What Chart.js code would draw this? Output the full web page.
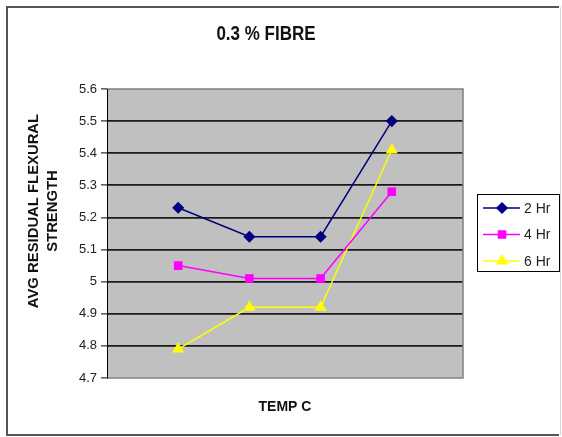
<!DOCTYPE html>
<html>
<head>
<meta charset="utf-8">
<title>0.3 % FIBRE</title>
<script src="https://cdn.jsdelivr.net/npm/chart.js@4.4.1/dist/chart.umd.min.js"></script>
<style>
  html, body { margin: 0; padding: 0; background: #ffffff; }
  #wrap { width: 562px; height: 437px; position: relative; }
</style>
</head>
<body>
<div id="wrap"><canvas id="chart" width="562" height="437"></canvas></div>
<script>
// Temperature steps (unlabelled on the axis), placed at slots 1..4
const tempSlots = [1, 2, 3, 4];
const seriesNames = ['2 Hr', '4 Hr', '6 Hr'];
const hr2 = [5.23, 5.14, 5.14, 5.50];
const hr4 = [5.05, 5.01, 5.01, 5.28];
const hr6 = [4.79, 4.92, 4.92, 5.41];
const yTicks = [4.7, 4.8, 4.9, 5.0, 5.1, 5.2, 5.3, 5.4, 5.5, 5.6];

const chartTitle = '0.3 % FIBRE';
const yTitle = ['AVG RESIDUAL FLEXURAL', 'STRENGTH'];
const xTitle = 'TEMP C';

const FONT = '"Liberation Sans", Arial, Helvetica, sans-serif';

const toPoints = vals => vals.map((v, i) => ({ x: tempSlots[i], y: v }));

// Page frame, grey plot area, heading, rotated y title and legend box
const decorations = {
  id: 'decorations',
  beforeDraw(chart) {
    const { ctx, chartArea: a } = chart;
    ctx.save();
    ctx.fillStyle = '#ffffff';
    ctx.fillRect(0, 0, chart.width, chart.height);
    ctx.fillStyle = '#c0c0c0';
    ctx.fillRect(a.left, a.top, a.right - a.left, a.bottom - a.top);
    ctx.restore();
  },
  afterDatasetsDraw(chart) {
    const { ctx, chartArea: a } = chart;
    ctx.save();
    // plot area outline
    ctx.strokeStyle = '#808080';
    ctx.lineWidth = 1.5;
    ctx.beginPath();
    ctx.moveTo(a.left, a.top); ctx.lineTo(a.right, a.top);
    ctx.lineTo(a.right, a.bottom); ctx.lineTo(a.left, a.bottom);
    ctx.stroke();
    // y axis line
    ctx.strokeStyle = '#000000';
    ctx.lineWidth = 1;
    ctx.beginPath();
    ctx.moveTo(a.left + 0.5, a.top); ctx.lineTo(a.left + 0.5, a.bottom + 0.5);
    ctx.stroke();

    // outer frame
    ctx.strokeStyle = '#555555';
    ctx.lineWidth = 2;
    ctx.beginPath();
    ctx.moveTo(559, 7); ctx.lineTo(7, 7); ctx.lineTo(7, 435); ctx.lineTo(559, 435);
    ctx.stroke();
    ctx.strokeStyle = '#d8d8d8';
    ctx.lineWidth = 1;
    ctx.beginPath();
    ctx.moveTo(560.5, 7); ctx.lineTo(560.5, 435);
    ctx.stroke();

    // heading
    ctx.save();
    ctx.fillStyle = '#111111';
    ctx.font = 'bold 17px ' + FONT;
    ctx.textAlign = 'center';
    ctx.textBaseline = 'middle';
    ctx.translate(266, 35);
    ctx.scale(1, 1.15);
    ctx.fillText(chartTitle, 0, 0);
    ctx.restore();

    // rotated y axis title (two lines)
    ctx.save();
    ctx.fillStyle = '#111111';
    ctx.font = 'bold 14px ' + FONT;
    ctx.textAlign = 'center';
    ctx.textBaseline = 'middle';
    ctx.translate(0, 211);
    ctx.rotate(-Math.PI / 2);
    ctx.scale(1.06, 1);
    ctx.fillText(yTitle[0], 0, 34);
    ctx.fillText(yTitle[1], 0, 53);
    ctx.restore();
    ctx.restore();

    // legend box with line + marker samples
    ctx.save();
    const bx = 477, by = 194, bw = 82, bh = 77;
    ctx.fillStyle = '#ffffff';
    ctx.fillRect(bx, by, bw, bh);
    ctx.strokeStyle = '#000000';
    ctx.lineWidth = 1;
    ctx.strokeRect(bx + 0.5, by + 0.5, bw, bh);
    chart.data.datasets.forEach((ds, i) => {
      const y = 208 + i * 26.5;
      ctx.strokeStyle = ds.borderColor;
      ctx.lineWidth = 1.5;
      ctx.beginPath();
      ctx.moveTo(483, y); ctx.lineTo(520, y);
      ctx.stroke();
      ctx.fillStyle = ds.pointBackgroundColor;
      ctx.strokeStyle = ds.pointBorderColor;
      Chart.helpers.drawPoint(ctx, {
        pointStyle: ds.pointStyle,
        radius: ds.pointRadius,
        borderWidth: 1
      }, 502, y);
      ctx.fillStyle = '#222222';
      ctx.font = '14px ' + FONT;
      ctx.textAlign = 'left';
      ctx.textBaseline = 'middle';
      ctx.fillText(ds.label, 524, y + 1);
    });
    ctx.restore();
  }
};

const makeSeries = (label, vals, color, style, radius) => ({
  label,
  data: toPoints(vals),
  borderColor: color,
  backgroundColor: color,
  pointBackgroundColor: color,
  pointBorderColor: color,
  pointStyle: style,
  pointRadius: radius,
  pointHoverRadius: radius,
  borderWidth: 1.5,
  tension: 0
});

new Chart(document.getElementById('chart'), {
  type: 'line',
  data: {
    datasets: [
      makeSeries(seriesNames[0], hr2, '#000080', 'rectRot', 5),
      makeSeries(seriesNames[1], hr4, '#ff00ff', 'rect', 5),
      makeSeries(seriesNames[2], hr6, '#ffff00', 'triangle', 5.5)
    ]
  },
  options: {
    responsive: false,
    animation: false,
    devicePixelRatio: 1,
    layout: { padding: { top: 89, right: 99, left: 0, bottom: 0 } },
    plugins: {
      legend: { display: false },
      title: { display: false },
      tooltip: { enabled: false }
    },
    scales: {
      x: {
        type: 'linear',
        min: 0,
        max: 5,
        grid: { display: false },
        border: { display: false },
        ticks: { display: false },
        title: {
          display: true,
          text: xTitle,
          color: '#111111',
          font: { family: FONT, size: 14, weight: 'bold' },
          padding: { top: 14, bottom: 21 }
        },
        afterFit(scale) { scale.height = 59; }
      },
      y: {
        min: 4.7,
        max: 5.6,
        afterBuildTicks(scale) { scale.ticks = yTicks.map(v => ({ value: v })); },
        ticks: {
          color: '#222222',
          font: { family: FONT, size: 13 },
          padding: 4,
          callback: v => String(Math.round(v * 10) / 10)
        },
        grid: {
          color: ctx => (ctx.tick && (ctx.tick.value <= 4.7 || ctx.tick.value >= 5.6)) ? 'rgba(0,0,0,0)' : '#1a1a1a',
          lineWidth: 1.8,
          tickColor: '#000000',
          tickLength: 6,
          tickWidth: 1
        },
        border: { display: false },
        afterFit(scale) { scale.width = 107; }
      }
    }
  },
  plugins: [decorations]
});
</script>
</body>
</html>
